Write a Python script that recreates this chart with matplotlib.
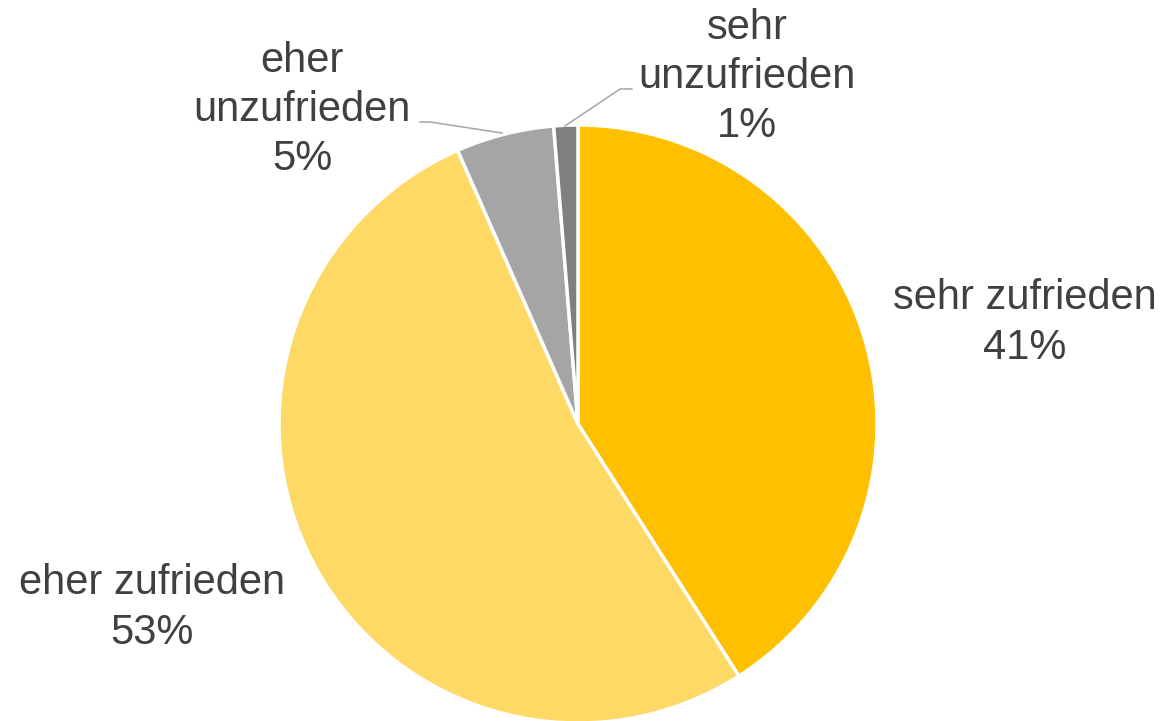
import matplotlib
matplotlib.use("Agg")
import matplotlib.pyplot as plt

plt.rcParams["font.family"] = ["Liberation Sans", "DejaVu Sans"]

# satisfaction shares
categories = ["sehr zufrieden", "eher zufrieden", "eher unzufrieden", "sehr unzufrieden"]
values = [41.0, 52.5, 5.3, 1.3]
labels = ["sehr zufrieden\n41%", "eher zufrieden\n53%", "eher\nunzufrieden\n5%", "sehr\nunzufrieden\n1%"]
colors = ["#FFC000", "#FFD966", "#A5A5A5", "#7F7F7F"]

W, H = 1168, 721
fig = plt.figure(figsize=(W / 100, H / 100), dpi=100)
ax = fig.add_axes([0, 0, 1, 1])

ax.pie(values, colors=colors, startangle=90, counterclock=False,
       radius=299, center=(578, 297),
       wedgeprops=dict(edgecolor="white", linewidth=2.5))
ax.set_xlim(0, W)
ax.set_ylim(0, H)
ax.set_aspect("equal")
ax.axis("off")

txt = dict(fontsize=30, color="#404040", ha="center", va="center", linespacing=1.3)
label_pos = [(1025, 398), (152, 113), (302, 611), (747, 644)]
for lab, (x, y) in zip(labels, label_pos):
    ax.text(x, y, lab, **txt)

# leader lines for the two small slices
ax.plot([420, 430, 502], [599, 599, 588], color="#A6A6A6", lw=1.1)
ax.plot([632, 620, 565], [632, 632, 595], color="#A6A6A6", lw=1.1)

fig.savefig("out.png", dpi=100)
